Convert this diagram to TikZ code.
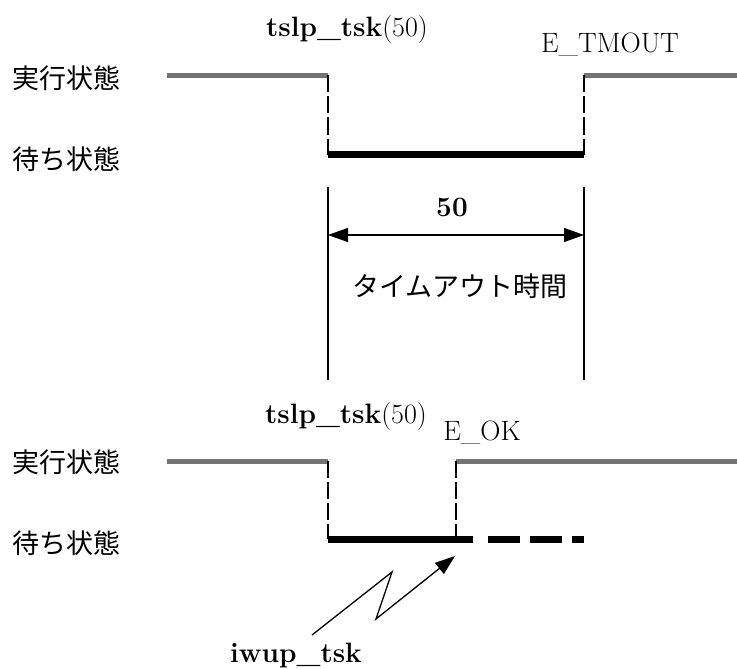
\documentclass[tikz,border=0pt]{standalone}
\usepackage{fontspec}
\newfontfamily\jp{Noto Sans CJK JP}
\usetikzlibrary{arrows.meta}
\begin{document}
\begin{tikzpicture}[x=1pt,y=-1pt,
  runline/.style={line width=5pt, color=black!55},
  waitline/.style={line width=7pt},
  transline/.style={line width=1.3pt, dash pattern=on 17pt off 4pt},
  thinline/.style={line width=1.3pt},
  jplbl/.style={font=\jp\fontsize{27}{30}\selectfont, inner sep=0pt},
  latlbl/.style={font=\fontsize{28}{32}\selectfont, inner sep=0pt},
  tip/.style={-{Triangle[length=20pt,width=14pt]}}]
\useasboundingbox (0,0) rectangle (737,669);

% labels
\node[jplbl, anchor=west] (run1) at (12,78) {実行状態};
\node[jplbl, anchor=west] (wait1) at (12,159) {待ち状態};
\node[jplbl, anchor=west] (run2) at (12,462) {実行状態};
\node[jplbl, anchor=west] (wait2) at (12,543) {待ち状態};

% top timeline
\coordinate (r1a) at (167,75.5);
\coordinate (r1b) at (328,75.5);
\coordinate (w1a) at (328,154.5);
\coordinate (w1b) at (584,154.5);
\coordinate (r1c) at (584,75.5);
\coordinate (r1d) at (737,75.5);
\draw[runline] (r1a) -- (r1b);
\draw[runline] (r1c) -- (r1d);
\draw[transline] (r1b) -- (w1a);
\draw[transline] (r1c) -- (w1b);
\draw[waitline] (w1a) -- (w1b);

\node[latlbl] (tslp1) at (347,30) {\textbf{tslp\_tsk}(50)};
\node[latlbl] (etmout) at (610,45) {E\_TMOUT};

% dimension
\coordinate (d1t) at (328,187);
\coordinate (d1b) at (328,380);
\coordinate (d2t) at (584,187);
\coordinate (d2b) at (584,380);
\coordinate (a1) at (328,235);
\coordinate (a2) at (584,235);
\draw[thinline] (d1t) -- (d1b);
\draw[thinline] (d2t) -- (d2b);
\draw[thinline, {Triangle[length=20pt,width=14pt]}-{Triangle[length=20pt,width=14pt]}] (a1) -- (a2);
\node[latlbl, font=\bfseries\fontsize{28}{32}\selectfont] (fifty) at (452,207) {50};
\node[jplbl] (tmo) at (460,286) {タイムアウト時間};

% bottom timeline
\coordinate (r2a) at (167,461);
\coordinate (r2b) at (328,461);
\coordinate (w2a) at (328,539);
\coordinate (w2b) at (456,539);
\coordinate (w2c) at (473,539);
\coordinate (w2d) at (488,539);
\coordinate (w2e) at (584,539);
\coordinate (r2c) at (456,461);
\coordinate (r2d) at (737,461);
\draw[runline] (r2a) -- (r2b);
\draw[runline] (r2c) -- (r2d);
\draw[transline] (r2b) -- (w2a);
\draw[transline] (r2c) -- (w2b);
\draw[waitline] (w2a) -- (w2c);
\draw[waitline, dash pattern=on 32pt off 10pt] (w2d) -- (w2e);

\node[latlbl] (tslp2) at (346,417) {\textbf{tslp\_tsk}(50)};
\node[latlbl] (eok) at (482,433) {E\_OK};

% interrupt arrow
\node[latlbl, font=\bfseries\fontsize{28}{32}\selectfont] (iwup) at (296,655) {iwup\_tsk};
\coordinate (z0) at (312,635);
\coordinate (z1) at (392,572);
\coordinate (z2) at (376,619);
\coordinate (z3) at (455,556);
\draw[thinline, tip] (z0) -- (z1) -- (z2) -- (z3);
\end{tikzpicture}
\end{document}
